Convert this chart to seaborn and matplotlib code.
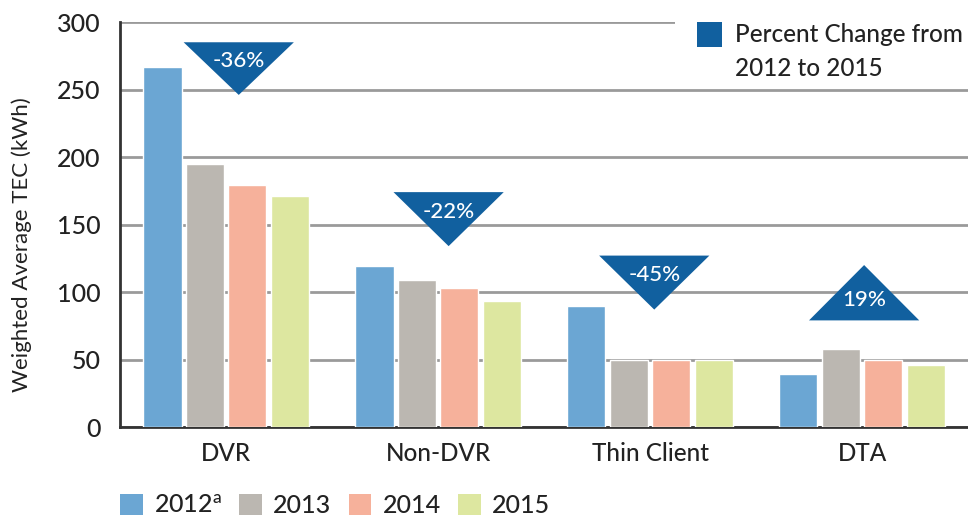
import numpy as np
import pandas as pd
import matplotlib.pyplot as plt
import seaborn as sns
from matplotlib.patches import Polygon, Rectangle, Patch

# Chart data
categories = ['DVR', 'Non-DVR', 'Thin Client', 'DTA']
years = ['2012', '2013', '2014', '2015']
tec_2012 = [267, 119, 90, 39]
tec_2013 = [195, 109, 50, 58]
tec_2014 = [179, 103, 50, 50]
tec_2015 = [171, 93, 50, 46]
pct_labels = ['-36%', '-22%', '-45%', '19%']
yticks = [0, 50, 100, 150, 200, 250, 300]

year_colors = ['#6ba6d3', '#bbb7b1', '#f6b19b', '#dde7a0']
badge_color = '#11609f'

# badge annotation placement (x centre, base level, tip level)
badge_x = [0.06, 1.05, 2.02, 3.01]
badge_base = [285, 174, 127, 79]
badge_tip = [246, 134, 87, 120]

df = pd.DataFrame({'category': categories, '2012': tec_2012, '2013': tec_2013,
                   '2014': tec_2014, '2015': tec_2015})
df = df.melt(id_vars='category', var_name='year', value_name='tec')

sns.set_style('white')
plt.rcParams['font.family'] = ['Lato', 'DejaVu Sans']
plt.rcParams['font.weight'] = 'medium'
text_color = '#222222'

fig, ax = plt.subplots(figsize=(9.68, 5.24), dpi=100)
fig.subplots_adjust(left=0.124, right=1.0, bottom=0.185, top=0.958)

sns.barplot(data=df, x='category', y='tec', hue='year', order=categories,
            hue_order=years, palette=year_colors, saturation=1, width=0.8,
            gap=0.1, legend=False, ax=ax, zorder=3)

ax.set_xlim(-0.5, 3.5)
ax.set_ylim(0, 300)
ax.set_yticks(yticks)
ax.yaxis.grid(True, color='#9a9a9a', linewidth=2)
ax.set_axisbelow(True)

for side in ['top', 'right']:
    ax.spines[side].set_visible(False)
for side in ['left', 'bottom']:
    ax.spines[side].set_color('#333333')
    ax.spines[side].set_linewidth(2)

ax.set_xticks([0.5, 1.5, 2.5], minor=True)
ax.tick_params(axis='x', which='minor', direction='in', length=6, width=1.5, color='#333333')
ax.tick_params(axis='x', which='major', length=0, pad=11, labelsize=17.5, labelcolor=text_color)
ax.tick_params(axis='y', length=0, pad=14, labelsize=18, labelcolor=text_color)
ax.set_xlabel('')
ax.set_ylabel('Weighted Average TEC (kWh)', fontsize=16, color=text_color)
ax.yaxis.set_label_coords(-0.104, 0.45)

# percent-change badges
for x, base, tip, lab in zip(badge_x, badge_base, badge_tip, pct_labels):
    tri = Polygon([[x - 0.26, base], [x + 0.26, base], [x, tip]], closed=True,
                  facecolor=badge_color, edgecolor='none', zorder=5)
    ax.add_patch(tri)
    ax.text(x, base + 0.36 * (tip - base), lab, color='white', fontsize=16,
            ha='center', va='center', zorder=6)

# percent-change key (top right)
ax.add_patch(Rectangle((0.655, 0.925), 0.36, 0.09, transform=ax.transAxes,
                       facecolor='white', edgecolor='none', zorder=4, clip_on=False))
ax.add_patch(Rectangle((0.680, 0.938), 0.030, 0.062, transform=ax.transAxes,
                       facecolor=badge_color, edgecolor='none', zorder=5, clip_on=False))
ax.text(0.725, 0.97, 'Percent Change from', transform=ax.transAxes, fontsize=17.5,
        color=text_color, va='center', ha='left', zorder=6)
ax.text(0.725, 0.885, '2012 to 2015', transform=ax.transAxes, fontsize=17.5,
        color=text_color, va='center', ha='left', zorder=6)

# year legend at the bottom
handles = [Patch(facecolor=c, edgecolor='none') for c in year_colors]
labels = ['2012$^{\\mathregular{a}}$'] + years[1:]
fig.legend(handles, labels, loc='lower left', bbox_to_anchor=(0.101, -0.03), ncol=4,
           frameon=False, fontsize=18, handlelength=0.9, handleheight=0.95,
           handletextpad=0.45, columnspacing=0.7, labelcolor=text_color)

plt.savefig('out.png', dpi=100)
